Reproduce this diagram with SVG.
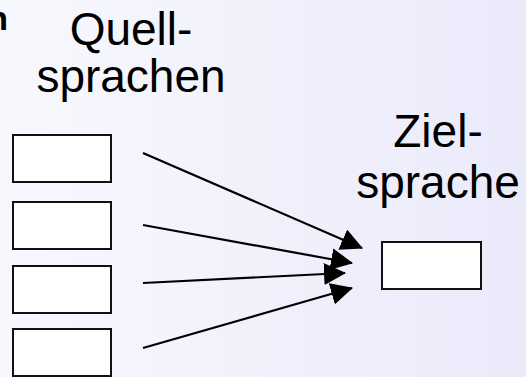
<svg xmlns="http://www.w3.org/2000/svg" width="526" height="377" viewBox="0 0 526 377">
  <defs>
    <linearGradient id="bg" x1="0" y1="0" x2="1" y2="0">
      <stop offset="0" stop-color="#f8f8fe"/>
      <stop offset="1" stop-color="#eaeafb"/>
    </linearGradient>
    <marker id="head" markerUnits="userSpaceOnUse" markerWidth="22" markerHeight="22" viewBox="0 0 22 22" refX="21" refY="11" orient="auto">
      <path d="M0,0 L22,11 L0,22 Z" fill="#000"/>
    </marker>
    <style>
      .box { fill: #fff; stroke: #111; stroke-width: 2; }
      .lbl { font-family: "Liberation Sans", Arial, sans-serif; font-size: 46px; fill: #000; text-anchor: middle; }
      .edge { stroke: #000; stroke-width: 2.2; fill: none; marker-end: url(#head); }
    </style>
  </defs>
  <rect width="526" height="377" fill="url(#bg)"/>
  <text x="8" y="30" font-family="Liberation Sans, Arial, sans-serif" font-weight="bold" font-size="34" text-anchor="end">n</text>

  <g id="source-label">
    <text class="lbl" x="131" y="45">Quell-</text>
    <text class="lbl" x="131" y="92">sprachen</text>
  </g>
  <g id="target-label">
    <text class="lbl" x="438" y="147">Ziel-</text>
    <text class="lbl" x="438" y="198">sprache</text>
  </g>

  <g id="src1"><rect class="box" x="13" y="135" width="98" height="47"/></g>
  <g id="src2"><rect class="box" x="13" y="202" width="98" height="47"/></g>
  <g id="src3"><rect class="box" x="13" y="266" width="98" height="47"/></g>
  <g id="src4"><rect class="box" x="13" y="329" width="98" height="47"/></g>
  <g id="target"><rect class="box" x="382" y="242" width="99" height="47"/></g>

  <g id="connectors">
    <line class="edge" x1="143" y1="153" x2="362" y2="248"/>
    <line class="edge" x1="143" y1="225" x2="352" y2="263"/>
    <line class="edge" x1="143" y1="283" x2="345" y2="273"/>
    <line class="edge" x1="143" y1="348" x2="352" y2="288"/>
  </g>
</svg>
